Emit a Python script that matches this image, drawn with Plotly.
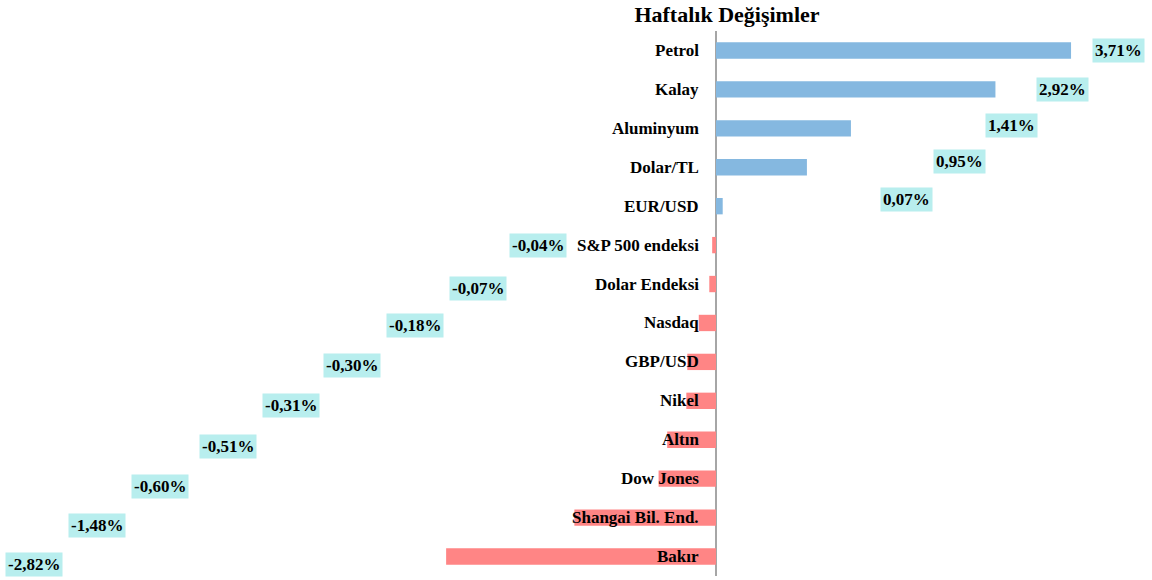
import plotly.graph_objects as go

categories = ["Petrol", "Kalay", "Aluminyum", "Dolar/TL", "EUR/USD", "S&P 500 endeksi",
              "Dolar Endeksi", "Nasdaq", "GBP/USD", "Nikel", "Altın", "Dow Jones",
              "Shangai Bil. End.", "Bakır"]
values = [3.71, 2.92, 1.41, 0.95, 0.07, -0.04, -0.07, -0.18, -0.30, -0.31, -0.51, -0.60, -1.48, -2.82]
value_labels = ["3,71%", "2,92%", "1,41%", "0,95%", "0,07%", "-0,04%", "-0,07%", "-0,18%",
                "-0,30%", "-0,31%", "-0,51%", "-0,60%", "-1,48%", "-2,82%"]

# layout: data-label placement (pixel centres in the 1152-wide figure) and vertical nudges
label_px = [1118, 1062, 1011, 959, 906, 538, 478, 415, 352, 291, 228, 160, 97, 34]
label_dy = [0, 0, 3, 6, 7, 0, -4, -3, -4, -5, -7, -8, -8, -8]

W, H = 1152, 580
zero_px = 716
ppu = 95.7
xr = [-zero_px / ppu, (W - zero_px) / ppu]

colors = ["#85b8e0" if v >= 0 else "#ff8585" for v in values]

fig = go.Figure(go.Bar(
    y=categories, x=values, orientation="h",
    marker=dict(color=colors, line=dict(width=0)),
    width=0.42, hoverinfo="skip",
))

font_family = "Liberation Serif, Times New Roman, serif"
ann = []
for i, c in enumerate(categories):
    ann.append(dict(x=0, y=c, xref="x", yref="y", text="<b>%s</b>" % c, showarrow=False,
                    xanchor="right", yanchor="middle", xshift=-15,
                    font=dict(family=font_family, size=17, color="#000000")))
for i, c in enumerate(categories):
    ann.append(dict(x=label_px[i] / W, y=c, xref="paper", yref="y", text="<b>%s</b>" % value_labels[i],
                    showarrow=False, xanchor="center", yanchor="middle", yshift=label_dy[i],
                    bgcolor="#b8eeee", borderpad=2,
                    font=dict(family=font_family, size=17, color="#000000")))

fig.update_layout(
    width=W, height=H,
    margin=dict(l=0, r=0, t=31, b=4),
    paper_bgcolor="white", plot_bgcolor="white",
    title=dict(text="<b>Haftalık Değişimler</b>", x=727 / W, xanchor="center", y=1 - 14 / H,
               yanchor="middle", font=dict(family=font_family, size=22, color="#000000")),
    xaxis=dict(range=xr, showgrid=False, showticklabels=False, zeroline=True,
               zerolinecolor="#a6a6a6", zerolinewidth=1.5, fixedrange=True),
    yaxis=dict(autorange=False, range=[13.5, -0.5], showticklabels=False, showgrid=False,
               fixedrange=True),
    annotations=ann, showlegend=False,
)

fig.write_html("out.html", config={"displayModeBar": False},
               post_script="document.body.style.margin='0';")
